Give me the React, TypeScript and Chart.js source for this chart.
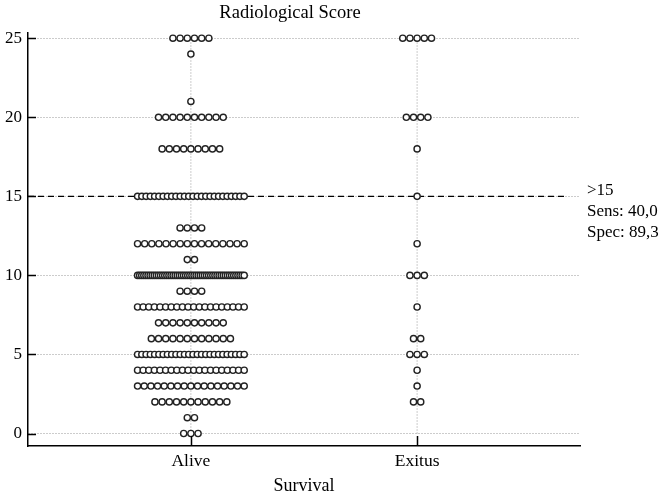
import React, { useEffect, useRef } from "react";
import { Chart, registerables } from "chart.js";
Chart.register(...registerables);

const categories = ["Alive", "Exitus"];
const scores = [25, 24, 21, 20, 18, 15, 13, 12, 11, 10, 9, 8, 7, 6, 5, 4, 3, 2, 1, 0];
const aliveCounts = [6, 1, 1, 10, 9, 26, 4, 16, 2, 52, 4, 20, 10, 12, 26, 20, 17, 11, 2, 3];
const exitusCounts = [5, 0, 0, 4, 1, 1, 0, 1, 0, 3, 0, 1, 0, 2, 3, 1, 1, 2, 0, 0];
const yTicks = [0, 5, 10, 15, 20, 25];
const cutoff = 15;
const cutoffLabels = [">15", "Sens: 40,0", "Spec: 89,3"];

const FONT = '"Liberation Serif", "Times New Roman", serif';
const DOT = 7.2;
const MAXW = 114;
const PX_PER_UNIT = 226.6;
const X_MIN = -0.72;
const X_MAX = 1.72;

function swarm(catIndex: number, counts: number[]) {
  const pts: { x: number; y: number }[] = [];
  scores.forEach((s, k) => {
    const n = counts[k];
    if (!n) return;
    const step = n * DOT <= MAXW ? DOT : (MAXW - DOT) / (n - 1);
    for (let i = 0; i < n; i++) {
      pts.push({ x: catIndex + ((i - (n - 1) / 2) * step) / PX_PER_UNIT, y: s });
    }
  });
  return pts;
}

export default function App() {
  const ref = useRef<HTMLCanvasElement | null>(null);
  useEffect(() => {
    document.body.style.margin = "0";
    const canvas = ref.current!;
    const decor = {
      id: "decor",
      afterDraw(chart: any) {
        const { ctx, chartArea, scales } = chart;
        const xs = scales.x;
        const ys = scales.y;
        ctx.save();
        ctx.strokeStyle = "#000";
        ctx.lineWidth = 1.5;
        ctx.beginPath();
        yTicks.forEach((v) => {
          const py = Math.round(ys.getPixelForValue(v)) + 0.5;
          ctx.moveTo(chartArea.left, py);
          ctx.lineTo(chartArea.left + 8, py);
        });
        categories.forEach((_, i) => {
          const px = Math.round(xs.getPixelForValue(i)) + 0.5;
          ctx.moveTo(px, chartArea.bottom);
          ctx.lineTo(px, chartArea.bottom - 10);
        });
        ctx.stroke();
        ctx.fillStyle = "#000";
        ctx.font = `17px ${FONT}`;
        ctx.textBaseline = "middle";
        ctx.textAlign = "left";
        const base = ys.getPixelForValue(cutoff) - 6;
        cutoffLabels.forEach((t, i) => {
          ctx.fillText(t, chartArea.right + 7, base + i * 21);
        });
        ctx.restore();
      },
    };
    const chart = new Chart(canvas, {
      type: "scatter",
      data: {
        datasets: [
          ...categories.map((_, i) => ({
            type: "line" as const,
            data: [
              { x: i, y: 0 },
              { x: i, y: 25 },
            ],
            borderColor: "#999",
            borderWidth: 1,
            borderDash: [1, 2],
            pointRadius: 0,
            showLine: true,
            order: 3,
          })),
          {
            type: "line" as const,
            data: [
              { x: X_MIN, y: cutoff },
              { x: 1.66, y: cutoff },
            ],
            borderColor: "#000",
            borderWidth: 1.2,
            borderDash: [6, 4],
            pointRadius: 0,
            showLine: true,
            order: 2,
          },
          {
            data: swarm(0, aliveCounts),
            pointRadius: 3.1,
            borderWidth: 1.4,
            borderColor: "#222",
            backgroundColor: "#fff",
            order: 1,
          },
          {
            data: swarm(1, exitusCounts),
            pointRadius: 3.1,
            borderWidth: 1.4,
            borderColor: "#222",
            backgroundColor: "#fff",
            order: 1,
          },
        ],
      },
      options: {
        animation: false,
        responsive: false,
        events: [],
        layout: { padding: { left: 0, right: 88, top: 0, bottom: 0 } },
        plugins: {
          legend: { display: false },
          tooltip: { enabled: false },
          title: {
            display: true,
            text: "Radiological Score",
            color: "#000",
            font: { family: FONT, size: 18.5, weight: "normal", lineHeight: 1.2 },
            padding: { top: 2, bottom: 8.8 },
          },
        },
        scales: {
          x: {
            type: "linear",
            min: X_MIN,
            max: X_MAX,
            afterBuildTicks: (s: any) => {
              s.ticks = categories.map((_, i) => ({ value: i }));
            },
            afterFit: (s: any) => {
              s.height = 49;
            },
            ticks: {
              callback: (v: any) => categories[v as number] ?? "",
              color: "#000",
              font: { family: FONT, size: 17.5 },
              padding: 5,
              maxRotation: 0,
            },
            grid: { display: false, drawTicks: false },
            border: { display: true, color: "#000", width: 1.5 },
            title: {
              display: true,
              text: "Survival",
              color: "#000",
              font: { family: FONT, size: 18, lineHeight: 1 },
              padding: 0,
            },
          },
          y: {
            type: "linear",
            min: -0.79,
            max: 25.33,
            afterBuildTicks: (s: any) => {
              s.ticks = yTicks.map((v) => ({ value: v }));
            },
            afterFit: (s: any) => {
              s.width = 28;
            },
            ticks: {
              color: "#000",
              font: { family: FONT, size: 17 },
              padding: 6,
            },
            grid: { color: "#999", lineWidth: 1, drawTicks: false },
            border: { display: true, color: "#000", width: 1.5, dash: [1, 2] },
          },
        },
      },
      plugins: [decor],
    } as any);
    return () => chart.destroy();
  }, []);
  return <canvas ref={ref} width={668} height={495} style={{ display: "block", width: 668, height: 495 }} />;
}
